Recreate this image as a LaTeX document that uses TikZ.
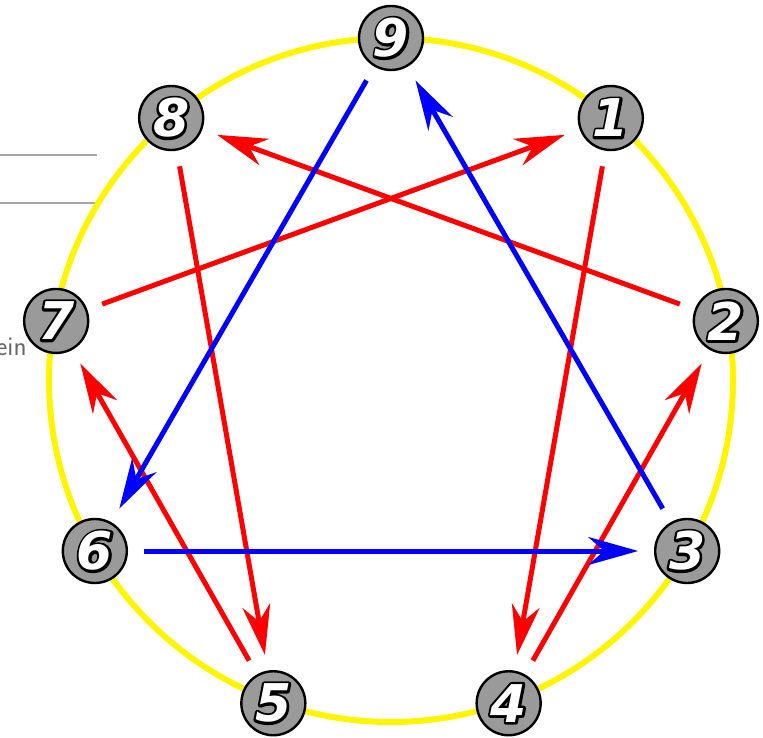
\documentclass[tikz,border=0pt]{standalone}
\usepackage{fontspec}
\usepackage{xcolor}
\usetikzlibrary{arrows.meta}
\newfontfamily\pEnnFont{DejaVu Sans}
\definecolor{ennYellow}{HTML}{FFF500}
\definecolor{ennGray}{HTML}{9A9A9A}
% black stroked copy under a white filled copy
\newcommand{\pEnnNum}[1]{\rlap{\special{pdf:literal direct 1 Tr 5 w 1 j 0 G}#1\special{pdf:literal direct 0 Tr}}{\color{white}#1}}

\tikzset{
  ennnode/.style={circle, draw=black, line width=2.4pt, fill=ennGray, minimum size=64pt,
    inner sep=0pt, outer sep=17pt, font=\pEnnFont\bfseries\itshape\fontsize{52}{52}\selectfont},
  ennarrow/.style={line width=5pt, -{Stealth[length=50pt, width=28pt, inset=16pt]}},
  redarrow/.style={ennarrow, red},
  bluearrow/.style={ennarrow, blue}
}

\begin{document}
\begin{tikzpicture}[x=1pt,y=1pt]
\useasboundingbox (0,0) rectangle (763,737);
% background scraps
\draw[gray!70, line width=1.5pt] (0,582) -- (97,582);
\draw[gray!70, line width=1.5pt] (0,534) -- (97,534);
\node[anchor=west, inner sep=0pt, text=black!60, font=\fontsize{27}{27}\selectfont\sffamily] (scrap) at (-4,390) {ein};
\begin{scope}[shift={(391,357)}]
\draw[ennYellow, line width=6pt] (0,0) circle (342);
\node[ennnode] (n9) at (90:342) {\pEnnNum{9}};
\node[ennnode] (n1) at (50:342) {\pEnnNum{1}};
\node[ennnode] (n2) at (10:340) {\pEnnNum{2}};
\node[ennnode] (n3) at (-30:342) {\pEnnNum{3}};
\node[ennnode] (n4) at (-70:344) {\pEnnNum{4}};
\node[ennnode] (n5) at (-110:344) {\pEnnNum{5}};
\node[ennnode] (n6) at (-150:342) {\pEnnNum{6}};
\node[ennnode] (n7) at (170:340) {\pEnnNum{7}};
\node[ennnode] (n8) at (130:342) {\pEnnNum{8}};
\end{scope}
% red lines
\draw[redarrow] (n1) -- (n4);
\draw[redarrow] (n4) -- (n2);
\draw[redarrow] (n2) -- (n8);
\draw[redarrow] (n8) -- (n5);
\draw[redarrow] (n5) -- (n7);
\draw[redarrow] (n7) -- (n1);
% blue lines
\draw[bluearrow] (n9) -- (n6);
\draw[bluearrow] (n6) -- (n3);
\draw[bluearrow] (n3) -- (n9);
\end{tikzpicture}
\end{document}
